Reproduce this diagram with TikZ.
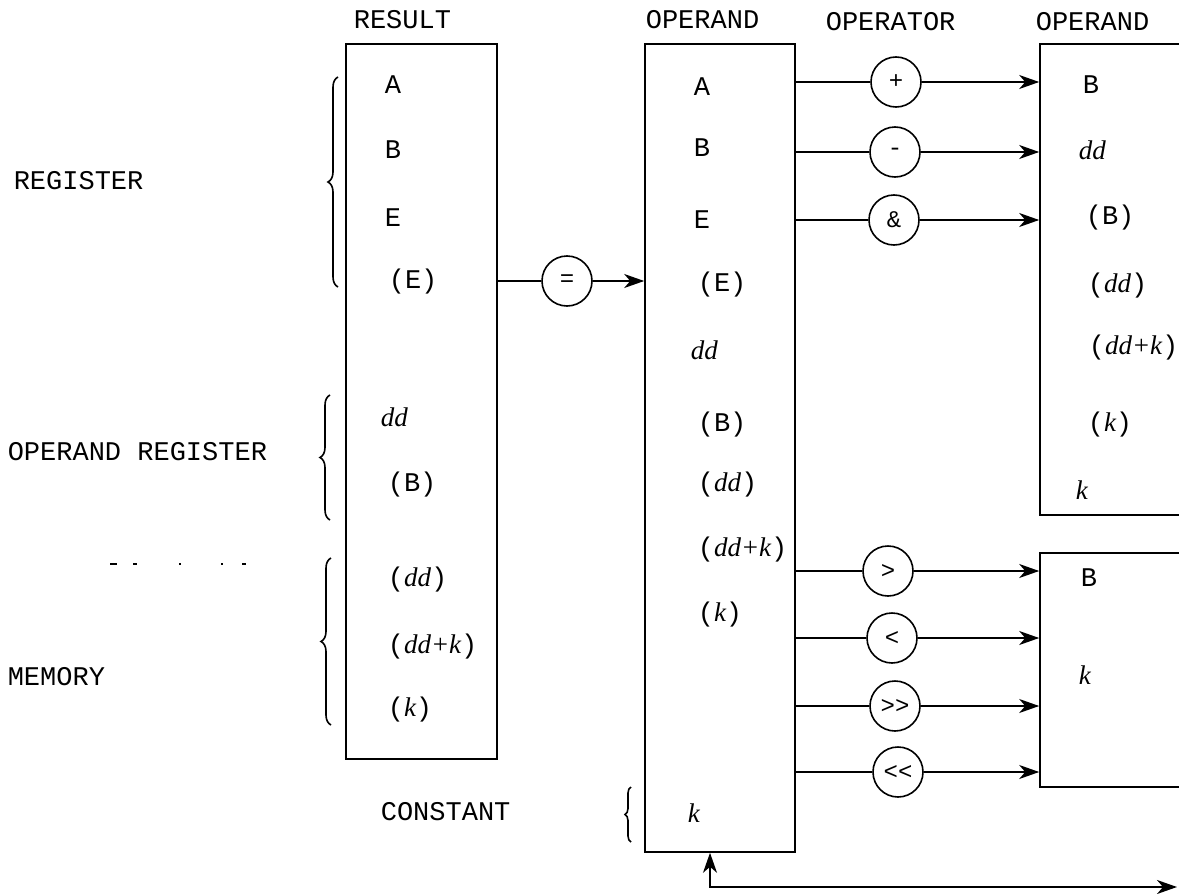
\documentclass[tikz,border=0pt]{standalone}
\usepackage{fontspec}
\setmainfont{Liberation Mono}
\newfontfamily\itfont{Liberation Serif}
\usetikzlibrary{arrows.meta, decorations.pathreplacing}
\newcommand{\vr}[1]{{\itfont\itshape #1}}

\begin{document}
\begin{tikzpicture}[
    x=0.5pt, y=-0.5pt,
    >={Stealth[length=10pt, width=7pt, inset=3pt]},
    line width=0.8pt,
    every node/.style={font=\fontsize{13.5}{16}\selectfont},
    cell/.style={anchor=west, inner sep=0pt},
    regbox/.style={draw, inner sep=0pt},
    opnode/.style={draw, circle, minimum size=25pt, inner sep=0pt, fill=white, font=\fontsize{12}{14}\selectfont},
    brc/.style={decorate, decoration={brace, amplitude=5pt}},
]
    \useasboundingbox (0,0) rectangle (1179,894);
    \clip (0,0) rectangle (1179,894);

    % Column headings
    \node[cell] (hres) at (353,20) {RESULT};
    \node[cell] (hopa) at (645,20) {OPERAND};
    \node[cell] (hopr) at (825,22) {OPERATOR};
    \node[cell] (hopb) at (1035,22) {OPERAND};

    % Side labels
    \node[cell] (lreg) at (13,181) {REGISTER};
    \node[cell] (lopr) at (7,452) {OPERAND REGISTER};
    \node[cell] (lmem) at (7,677) {MEMORY};
    \node[cell] (lcon) at (380,812) {CONSTANT};

    % Boxes
    \node[regbox, minimum width=75.5pt, minimum height=357.5pt] (res) at (421.5,401.5) {};
    \node[regbox, minimum width=75pt, minimum height=404pt] (opnd) at (720,448) {};
    \node[regbox, minimum width=110pt, minimum height=235.5pt] (oprA) at (1150,279.5) {};
    \node[regbox, minimum width=110pt, minimum height=117pt] (oprB) at (1150,670) {};

    % Result entries
    \node[cell] (r1) at (384,85) {A};
    \node[cell] (r2) at (384,150) {B};
    \node[cell] (r3) at (384,218) {E};
    \node[cell] (r4) at (388,282) {(E)};
    \node[cell] (r5) at (380,417) {\vr{dd}};
    \node[cell] (r6) at (387,485) {(B)};
    \node[cell] (r7) at (387,580) {(\vr{dd})};
    \node[cell] (r8) at (387,647) {(\vr{dd+k})};
    \node[cell] (r9) at (387,710) {(\vr{k})};

    % Operand entries
    \node[cell] (a1) at (693,87) {A};
    \node[cell] (a2) at (693,148) {B};
    \node[cell] (a3) at (693,220) {E};
    \node[cell] (a4) at (697,285) {(E)};
    \node[cell] (a5) at (690,350) {\vr{dd}};
    \node[cell] (a6) at (697,425) {(B)};
    \node[cell] (a7) at (697,485) {(\vr{dd})};
    \node[cell] (a8) at (697,550) {(\vr{dd+k})};
    \node[cell] (a9) at (697,615) {(\vr{k})};
    \node[cell] (a10) at (687,813) {\vr{k}};

    % Second operand entries
    \node[cell] (b1) at (1082,85) {B};
    \node[cell] (b2) at (1078,150) {\vr{dd}};
    \node[cell] (b3) at (1085,218) {(B)};
    \node[cell] (b4) at (1087,286) {(\vr{dd})};
    \node[cell] (b5) at (1088,348) {(\vr{dd+k})};
    \node[cell] (b6) at (1087,425) {(\vr{k})};
    \node[cell] (b7) at (1075,490) {\vr{k}};
    \node[cell] (c1) at (1080,578) {B};
    \node[cell] (c2) at (1078,675) {\vr{k}};

    % Operators
    \node[opnode] (opEq) at (567,281) {=};
    \node[opnode] (opAdd) at (896,82) {+};
    \node[opnode] (opSub) at (895,152) {-};
    \node[opnode] (opAnd) at (894,220) {\&};
    \node[opnode] (opGt) at (888,571) {>};
    \node[opnode] (opLt) at (892,638) {<};
    \node[opnode] (opShr) at (895,706) {>{}>};
    \node[opnode] (opShl) at (898,772) {<{}<};

    % Braces
    \draw[brc] (338,287) -- (338,77);
    \draw[brc] (330,520) -- (330,395);
    \draw[brc] (331,725) -- (331,558);
    \draw[brc, decoration={amplitude=3pt}] (631,842) -- (631,787);

    % Separator marks
    \draw (110,564) -- (117,564) (133,564) -- (137,564) (179,564) -- (181,564)
          (221,564) -- (223,564) (242,564) -- (246,564);

    % Connectors
    \draw[->] (res.east |- opEq) -- (opEq) -- (opEq -| opnd.west);
    \foreach \op in {opAdd, opSub, opAnd}
        \draw[->] (opnd.east |- \op) -- (\op) -- (\op -| oprA.west);
    \foreach \op in {opGt, opLt, opShr, opShl}
        \draw[->] (opnd.east |- \op) -- (\op) -- (\op -| oprB.west);

    % Feedback
    \coordinate (loop) at (710,887);
    \coordinate (exit) at (1177,887);
    \draw[<->] (opnd.south -| loop) -- (loop) -- (exit);
\end{tikzpicture}
\end{document}
